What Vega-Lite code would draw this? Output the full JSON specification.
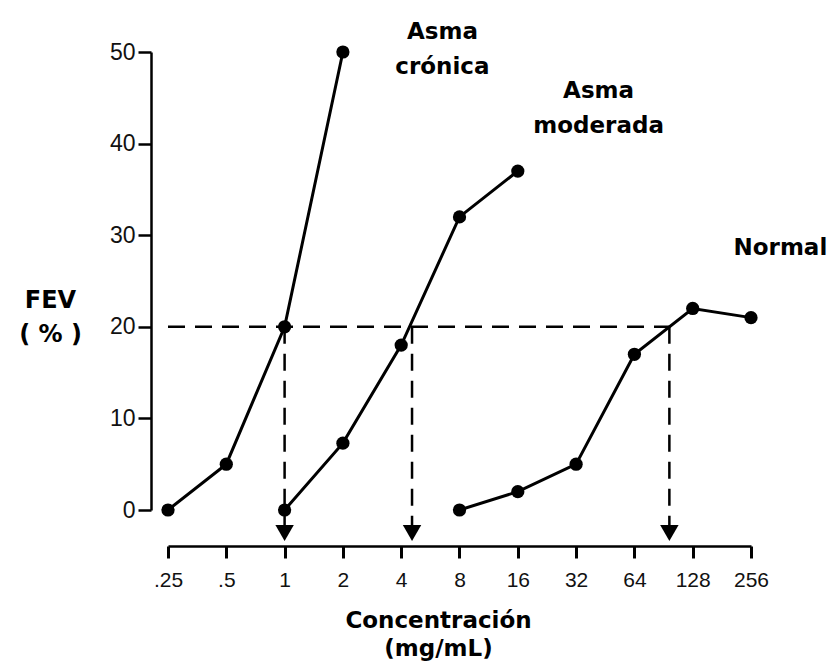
{
  "$schema": "https://vega.github.io/schema/vega-lite/v6.json",
  "width": 583,
  "height": 458,
  "autosize": {"type": "none"},
  "padding": {"left": 168, "top": 52, "right": 84, "bottom": 158},
  "background": "white",
  "config": {"view": {"stroke": null}, "axis": {"grid": false}},
  "datasets": {
    "series": [
      {"grupo": "Asma crónica", "conc": 0.25, "fev": 0},
      {"grupo": "Asma crónica", "conc": 0.5, "fev": 5},
      {"grupo": "Asma crónica", "conc": 1, "fev": 20},
      {"grupo": "Asma crónica", "conc": 2, "fev": 50},
      {"grupo": "Asma moderada", "conc": 1, "fev": 0},
      {"grupo": "Asma moderada", "conc": 2, "fev": 7.3},
      {"grupo": "Asma moderada", "conc": 4, "fev": 18},
      {"grupo": "Asma moderada", "conc": 8, "fev": 32},
      {"grupo": "Asma moderada", "conc": 16, "fev": 37},
      {"grupo": "Normal", "conc": 8, "fev": 0},
      {"grupo": "Normal", "conc": 16, "fev": 2},
      {"grupo": "Normal", "conc": 32, "fev": 5},
      {"grupo": "Normal", "conc": 64, "fev": 17},
      {"grupo": "Normal", "conc": 128, "fev": 22},
      {"grupo": "Normal", "conc": 256, "fev": 21}
    ],
    "arrows": [
      {"conc": 1, "top": 20, "bottom": -1.8, "tip": -2.5},
      {"conc": 4.55, "top": 20, "bottom": -1.8, "tip": -2.5},
      {"conc": 97, "top": 20, "bottom": -1.8, "tip": -2.5}
    ],
    "threshold": [{"from": 0.25, "to": 97, "fev": 20}],
    "labels": [
      {"label": "Asma\ncrónica", "conc": 6.53, "fev": 51.4},
      {"label": "Asma\nmoderada", "conc": 41.8, "fev": 45.0},
      {"label": "Normal", "conc": 363, "fev": 27.8}
    ]
  },
  "layer": [
    {
      "data": {"name": "series"},
      "mark": {"type": "line", "color": "black", "strokeWidth": 3},
      "encoding": {
        "x": {
          "field": "conc",
          "type": "quantitative",
          "scale": {"type": "log", "base": 2, "domain": [0.25, 256], "nice": false},
          "axis": {
            "values": [0.25, 0.5, 1, 2, 4, 8, 16, 32, 64, 128, 256],
            "labelExpr": "datum.value == 0.25 ? '.25' : datum.value == 0.5 ? '.5' : format(datum.value, 'd')",
            "offset": 36,
            "domainColor": "black",
            "domainWidth": 2.5,
            "tickColor": "black",
            "tickWidth": 3,
            "tickSize": 12,
            "labelFont": "Liberation Sans",
            "labelFontSize": 21,
            "labelColor": "#111",
            "labelPadding": 11,
            "labelFlush": false,
            "labelOverlap": false,
            "title": ["Concentración", "(mg/mL)"],
            "titleFont": "DejaVu Sans",
            "titleFontWeight": "bold",
            "titleFontSize": 23,
            "titleColor": "black",
            "titleX": 270,
            "titleY": 81,
            "titleAlign": "center",
            "titleBaseline": "alphabetic",
            "titleLineHeight": 28
          }
        },
        "y": {
          "field": "fev",
          "type": "quantitative",
          "scale": {"domain": [0, 50], "nice": false, "zero": false},
          "axis": {
            "values": [0, 10, 20, 30, 40, 50],
            "offset": 17,
            "domainColor": "black",
            "domainWidth": 2.5,
            "tickColor": "black",
            "tickWidth": 2.5,
            "tickSize": 13,
            "labelFont": "Liberation Sans",
            "labelFontSize": 23,
            "labelColor": "#111",
            "labelPadding": 3,
            "title": ["FEV", "( % )"],
            "titleFont": "DejaVu Sans",
            "titleFontWeight": "bold",
            "titleFontSize": 24,
            "titleColor": "black",
            "titleAngle": 0,
            "titleX": -101,
            "titleY": 255,
            "titleAlign": "center",
            "titleBaseline": "alphabetic",
            "titleLineHeight": 34
          }
        },
        "detail": {"field": "grupo"}
      }
    },
    {
      "data": {"name": "series"},
      "mark": {"type": "circle", "color": "black", "size": 175, "opacity": 1},
      "encoding": {
        "x": {"field": "conc", "type": "quantitative"},
        "y": {"field": "fev", "type": "quantitative"}
      }
    },
    {
      "data": {"name": "threshold"},
      "mark": {"type": "rule", "color": "black", "strokeWidth": 2.5, "strokeDash": [17, 10]},
      "encoding": {
        "x": {"field": "from", "type": "quantitative"},
        "x2": {"field": "to"},
        "y": {"field": "fev", "type": "quantitative"}
      }
    },
    {
      "data": {"name": "arrows"},
      "mark": {"type": "rule", "color": "black", "strokeWidth": 2.5, "strokeDash": [17, 10]},
      "encoding": {
        "x": {"field": "conc", "type": "quantitative"},
        "y": {"field": "top", "type": "quantitative"},
        "y2": {"field": "bottom"}
      }
    },
    {
      "data": {"name": "arrows"},
      "mark": {"type": "point", "shape": "triangle-down", "filled": true, "color": "black", "size": 340, "opacity": 1},
      "encoding": {
        "x": {"field": "conc", "type": "quantitative"},
        "y": {"field": "tip", "type": "quantitative"}
      }
    },
    {
      "data": {"name": "labels"},
      "mark": {"type": "text", "font": "DejaVu Sans", "fontWeight": "bold", "fontSize": 23, "color": "black", "align": "center", "baseline": "alphabetic", "lineBreak": "\n", "lineHeight": 35},
      "encoding": {
        "x": {"field": "conc", "type": "quantitative"},
        "y": {"field": "fev", "type": "quantitative"},
        "text": {"field": "label"}
      }
    }
  ]
}
